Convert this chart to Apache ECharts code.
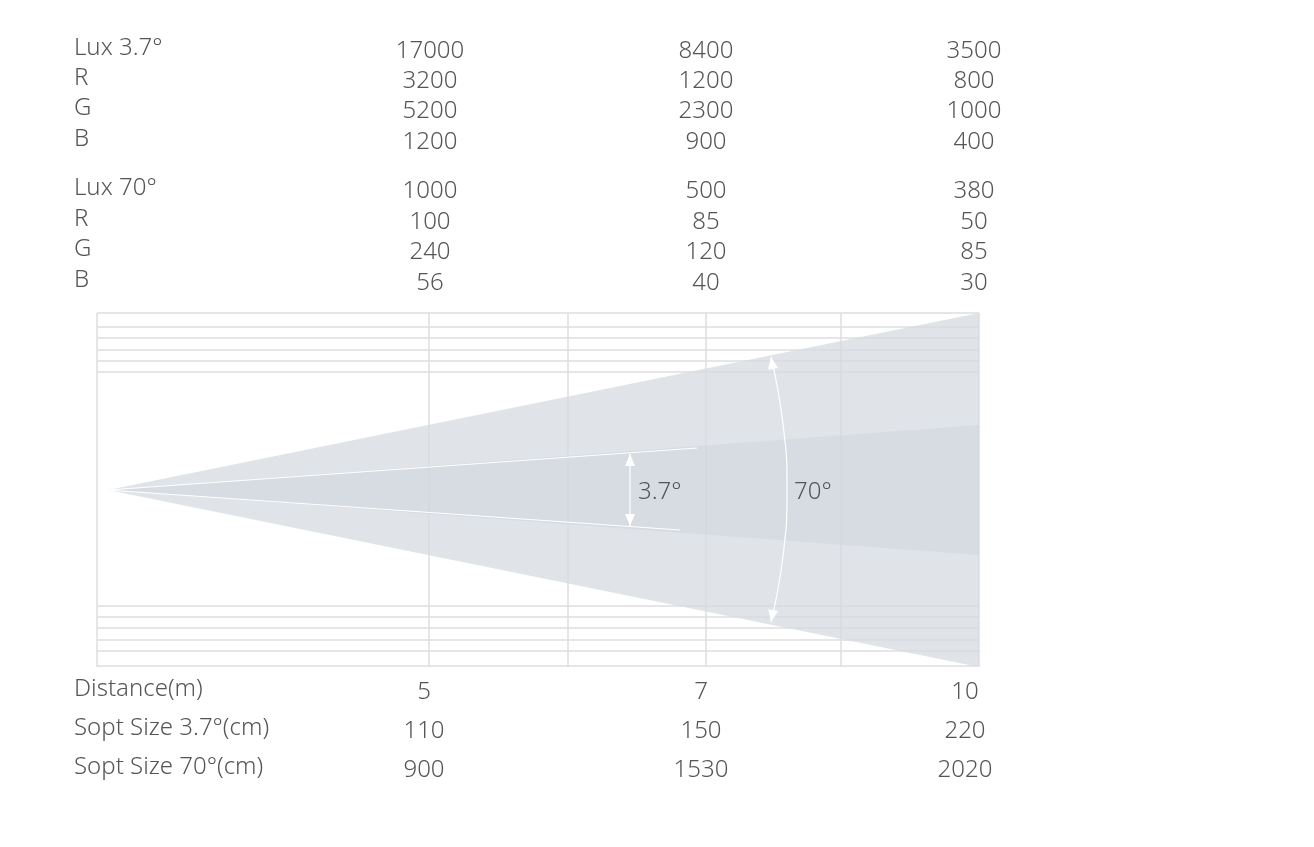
<!DOCTYPE html>
<html>
<head>
<meta charset="utf-8">
<script src="https://cdn.jsdelivr.net/npm/echarts@6/dist/echarts.min.js"></script>
<style>
  html, body { margin: 0; padding: 0; background: #fff; }
  #main { width: 1314px; height: 847px; }
</style>
</head>
<body>
<div id="main"></div>
<script>
// lux table (top)
var luxLabels = ['Lux 3.7°', 'R', 'G', 'B', 'Lux 70°', 'R', 'G', 'B']
var luxAt5 = ['17000', '3200', '5200', '1200', '1000', '100', '240', '56']
var luxAt7 = ['8400', '1200', '2300', '900', '500', '85', '120', '40']
var luxAt10 = ['3500', '800', '1000', '400', '380', '50', '85', '30']

// size table (bottom)
var sizeLabels = ['Distance(m)', 'Sopt Size 3.7°(cm)', 'Sopt Size 70°(cm)']
var sizeAt5 = ['5', '110', '900']
var sizeAt7 = ['7', '150', '1530']
var sizeAt10 = ['10', '220', '2020']

// beam diagram, in diagram units
var apex = [11, 0]
var outerCone = [[11, 0], [882, 177], [882, -177]]
var innerCone = [[11, 0], [882, 65], [882, -65]]
var innerEdges = [[[11, 0], [600, 42]], [[11, 0], [583, -40]]]
var arrow37 = [[533, 36], [533, -36]]
var arc70 = [[674, 133], [686, 66], [690, 0], [686, -66], [674, -132]]
var vLines = [0, 332, 471, 609, 744, 882]
var hLines = [177, 163, 152, 140, 129, 118, -116, -127, -138, -150, -161, -176]

var chart = echarts.init(document.getElementById('main'))
var txtColor = '#555'
var font = '"Noto Sans", sans-serif'

var graphics = []
var luxRowY = [51, 81, 111, 142, 191, 222, 252, 283]
luxLabels.forEach(function (l, i) {
  var y = luxRowY[i]
  graphics.push({ type: 'text', left: 74, top: y - 15, style: { text: l, fill: txtColor, font: '300 24px ' + font } })
  ;[[430, luxAt5], [706, luxAt7], [974, luxAt10]].forEach(function (c) {
    graphics.push({ type: 'text', x: c[0], y: y, style: { text: c[1][i], fill: txtColor, font: '300 24px ' + font, align: 'center', verticalAlign: 'middle' } })
  })
})
var sizeRowY = [692, 731, 770]
sizeLabels.forEach(function (l, i) {
  var y = sizeRowY[i]
  graphics.push({ type: 'text', left: 74, top: y - 15, style: { text: l, fill: txtColor, font: '300 24px ' + font } })
  ;[[424, sizeAt5], [701, sizeAt7], [965, sizeAt10]].forEach(function (c) {
    graphics.push({ type: 'text', x: c[0], y: y, style: { text: c[1][i], fill: txtColor, font: '300 24px ' + font, align: 'center', verticalAlign: 'middle' } })
  })
})

function arrowHead(api, from, to) {
  var a = api.coord(from), b = api.coord(to)
  var dx = b[0] - a[0], dy = b[1] - a[1], len = Math.sqrt(dx * dx + dy * dy)
  var ux = dx / len, uy = dy / len, s = 12, w = 5
  return {
    type: 'polygon',
    shape: { points: [b, [b[0] - ux * s - uy * w, b[1] - uy * s + ux * w], [b[0] - ux * s + uy * w, b[1] - uy * s - ux * w]] },
    style: { fill: '#fff' }
  }
}

function renderDiagram(params, api) {
  var c = function (p) { return api.coord(p) }
  var kids = []
  var ymax = 177, ymin = -177
  hLines.forEach(function (y) {
    kids.push({ type: 'line', shape: { x1: c([0, y])[0], y1: c([0, y])[1], x2: c([882, y])[0], y2: c([882, y])[1] }, style: { stroke: '#dedede', lineWidth: 1.5 } })
  })
  vLines.forEach(function (x) {
    kids.push({ type: 'line', shape: { x1: c([x, ymax])[0], y1: c([x, ymax])[1], x2: c([x, ymin])[0], y2: c([x, ymin])[1] }, style: { stroke: '#dedede', lineWidth: 1.5 } })
  })
  kids.push({ type: 'polygon', shape: { points: outerCone.map(c) }, style: { fill: 'rgba(214,219,225,0.75)' } })
  kids.push({ type: 'polygon', shape: { points: innerCone.map(c) }, style: { fill: 'rgba(205,213,220,0.55)' } })
  innerEdges.forEach(function (e) {
    kids.push({ type: 'polyline', shape: { points: e.map(c) }, style: { stroke: '#fff', lineWidth: 1.2, fill: null } })
  })
  kids.push({ type: 'polyline', shape: { points: arrow37.map(c) }, style: { stroke: '#fff', lineWidth: 1.2, fill: null } })
  kids.push(arrowHead(api, arrow37[1], arrow37[0]))
  kids.push(arrowHead(api, arrow37[0], arrow37[1]))
  kids.push({ type: 'polyline', shape: { points: arc70.map(c), smooth: 0.5 }, style: { stroke: '#fff', lineWidth: 1.2, fill: null } })
  kids.push(arrowHead(api, arc70[1], arc70[0]))
  kids.push(arrowHead(api, arc70[3], arc70[4]))
  var p37 = c([550, 0]), p70 = c([697, 0])
  kids.push({ type: 'text', x: p37[0] - 9, y: p37[1] + 2, style: { text: '3.7°', fill: txtColor, font: '300 24px ' + font, verticalAlign: 'middle' } })
  kids.push({ type: 'text', x: p70[0], y: p70[1] + 2, style: { text: '70°', fill: txtColor, font: '300 24px ' + font, verticalAlign: 'middle' } })
  return { type: 'group', children: kids }
}

chart.setOption({
  animation: false,
  grid: { left: 97, top: 313, width: 882, height: 354 },
  xAxis: { type: 'value', min: 0, max: 882, show: false },
  yAxis: { type: 'value', min: -177, max: 177, show: false },
  graphic: graphics,
  series: [{
    type: 'custom',
    renderItem: renderDiagram,
    data: [apex],
    silent: true
  }]
})
</script>
</body>
</html>
